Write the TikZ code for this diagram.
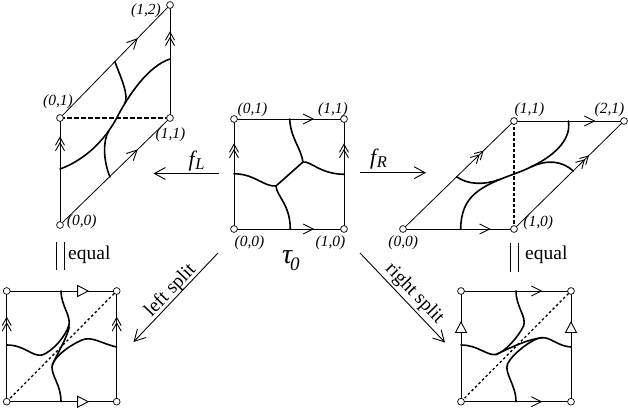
\documentclass[tikz,border=0pt]{standalone}
\usepackage{fontspec}
\setmainfont{Liberation Serif}
\usetikzlibrary{arrows.meta,decorations.markings}
\begin{document}
\begin{tikzpicture}[x=1pt,y=-1pt,
  frame/.style={line width=0.8pt},
  trk/.style={line width=1.6pt,line cap=round},
  vtx/.style={circle,draw,fill=white,inner sep=0pt,minimum size=6.8pt,line width=0.7pt},
  clab/.style={font=\fontsize{15.5}{15.5}\selectfont\itshape,inner sep=0pt},
  word/.style={font=\fontsize{19.5}{20}\selectfont,inner sep=0pt},
  chv/.style={postaction={decorate,decoration={markings,mark=at position #1 with {\draw[line width=0.9pt] (-10pt,5pt)--(0pt,0pt)--(-10pt,-5pt);}}}},
  dchv/.style={postaction={decorate,decoration={markings,mark=at position #1 with {\draw[line width=0.9pt] (-8pt,4.5pt)--(0pt,0pt)--(-8pt,-4.5pt) (-13.5pt,4.5pt)--(-5.5pt,0pt)--(-13.5pt,-4.5pt);}}}},
  trimk/.style={postaction={decorate,decoration={markings,mark=at position #1 with {\draw[line width=0.9pt,fill=white] (0pt,0pt)--(-10.5pt,5.5pt)--(-10.5pt,-5.5pt)--cycle;}}}},
  dsh/.style={line width=1.6pt,dash pattern=on 4.5pt off 2.5pt},
  dts/.style={line width=1.3pt,dash pattern=on 2.5pt off 2.5pt},
  farrow/.style={line width=0.9pt,-{Straight Barb[length=11pt,width=12pt]}}
]
\useasboundingbox (0,0) rectangle (628,409);

% ---------- centre square tau_0
\coordinate (c00) at (234,229);
\coordinate (c10) at (344,229);
\coordinate (c11) at (344,119);
\coordinate (c01) at (234,119);
\draw[frame,chv=0.72] (c00) -- (c10);
\draw[frame,chv=0.72] (c01) -- (c11);
\draw[frame,dchv=0.77] (c00) -- (c01);
\draw[frame,dchv=0.77] (c10) -- (c11);
\coordinate (cA) at (303,162);
\coordinate (cB) at (276,186);
\draw[trk] (289.7,119) .. controls (290.5,138) and (301,148) .. (cA);
\draw[trk] (cA) .. controls (311,161) and (320,174) .. (344,174.3);
\draw[trk] (cA) -- (cB);
\draw[trk] (cB) .. controls (264,187) and (255,174) .. (234,173.7);
\draw[trk] (cB) .. controls (277,197) and (290,204) .. (290.3,229);
\foreach \p in {c00,c10,c11,c01} \node[vtx] (v\p) at (\p) {};
\node[clab] (lc01) at (252.5,110) {(0,1)};
\node[clab] (lc11) at (333,110) {(1,1)};
\node[clab] (lc00) at (249.5,242.7) {(0,0)};
\node[clab] (lc10) at (330.5,242.7) {(1,0)};
\node[inner sep=0pt,anchor=base west] (tau) at (282,263.3) {\fontsize{28}{28}\selectfont\itshape τ\kern-2pt\raisebox{-6.7pt}{\fontsize{19}{19}\selectfont 0}};

% ---------- top left parallelogram (image under f_L)
\coordinate (L00) at (60,225);
\coordinate (L01) at (60,118);
\coordinate (L11) at (170,118);
\coordinate (L12) at (170,5);
\draw[frame,dchv=0.82] (L00) -- (L01);
\draw[frame,dchv=0.76] (L11) -- (L12);
\draw[frame,chv=0.70] (L00) -- (L11);
\draw[frame,chv=0.70] (L01) -- (L12);
\draw[dsh] (L01) -- (L11);
\draw[trk] (60,169) .. controls (85,160) and (105,140) .. (116.7,118) .. controls (128,96) and (148,66) .. (170,59);
\draw[trk] (115,62) .. controls (121,78) and (129.5,96) .. (124.5,104.1);
\draw[trk] (110,177) .. controls (103,160) and (103,141) .. (108.7,130.9);
\foreach \p in {L00,L01,L11,L12} \node[vtx] (v\p) at (\p) {};
\node[clab] (lL12) at (146,10.7) {(1,2)};
\node[clab] (lL01) at (58,101.7) {(0,1)};
\node[clab] (lL11) at (170.5,135) {(1,1)};
\node[clab] (lL00) at (81.7,221.7) {(0,0)};

% ---------- top right parallelogram (image under f_R)
\coordinate (R00) at (403,229);
\coordinate (R10) at (514,229);
\coordinate (R11) at (514,121);
\coordinate (R21) at (624,121);
\draw[frame,chv=0.78] (R00) -- (R10);
\draw[frame,chv=0.73] (R11) -- (R21);
\draw[frame,dchv=0.72] (R00) -- (R11);
\draw[frame,dchv=0.675] (R10) -- (R21);
\draw[dsh,dash pattern=on 3.5pt off 2pt] (R10) -- (R11);
\draw[trk] (568.3,121) .. controls (572,140) and (553,160) .. (514,174) .. controls (480,186.5) and (461,196) .. (460.7,229);
\draw[trk] (456.7,176.8) .. controls (468,185) and (485,185) .. (499.7,179.4);
\draw[trk] (573.3,171) .. controls (562,161) and (548,159) .. (530,167.3);
\foreach \p in {R00,R10,R11,R21} \node[vtx] (v\p) at (\p) {};
\node[clab] (lR00) at (403.3,242.7) {(0,0)};
\node[clab] (lR10) at (538.3,222.3) {(1,0)};
\node[clab] (lR11) at (529.5,110) {(1,1)};
\node[clab] (lR21) at (609.5,110) {(2,1)};

% ---------- maps
\coordinate (fLs) at (219,173.5);
\coordinate (fLe) at (153.5,173.5);
\draw[farrow] (fLs) -- (fLe);
\node[inner sep=0pt,anchor=base west] (fL) at (188.5,166) {\fontsize{22}{22}\selectfont\itshape f\kern0.5pt\raisebox{-3pt}{\fontsize{16.5}{16.5}\selectfont L}};
\coordinate (fRs) at (360,172.7);
\coordinate (fRe) at (426,172.7);
\draw[farrow] (fRs) -- (fRe);
\node[inner sep=0pt,anchor=base west] (fR) at (370,164.5) {\fontsize{22}{22}\selectfont\itshape f\kern0.5pt\raisebox{-3pt}{\fontsize{16.5}{16.5}\selectfont R}};

\coordinate (lss) at (218,253);
\coordinate (lse) at (133.5,342);
\draw[farrow] (lss) -- (lse);
\node[word,anchor=base,rotate=46] (ls) at (174,294) {left split};
\coordinate (rss) at (360,253);
\coordinate (rse) at (445,342.5);
\draw[farrow] (rss) -- (rse);
\node[word,anchor=base,rotate=-46] (rs) at (411,297) {right split};

% equal signs
\coordinate (eqa1) at (56.7,242); \coordinate (eqa2) at (56.7,270);
\coordinate (eqb1) at (64.3,242); \coordinate (eqb2) at (64.3,270);
\draw[line width=0.9pt] (eqa1) -- (eqa2);
\draw[line width=0.9pt] (eqb1) -- (eqb2);
\node[word,anchor=base west] (eqL) at (68,259.5) {equal};
\coordinate (eqc1) at (510,243); \coordinate (eqc2) at (510,272);
\coordinate (eqd1) at (518,243); \coordinate (eqd2) at (518,272);
\draw[line width=0.9pt] (eqc1) -- (eqc2);
\draw[line width=0.9pt] (eqd1) -- (eqd2);
\node[word,anchor=base west] (eqR) at (525,259.5) {equal};

% ---------- bottom left square (left split)
\coordinate (P00) at (6.7,401.7);
\coordinate (P10) at (116.7,401.7);
\coordinate (P11) at (116.7,291);
\coordinate (P01) at (6.7,291);
\draw[frame,trimk=0.74] (P01) -- (P11);
\draw[frame,trimk=0.74] (P00) -- (P10);
\draw[frame,dchv=0.76] (P00) -- (P01);
\draw[frame,dchv=0.76] (P10) -- (P11);
\draw[dts] (P00) -- (P11);
\draw[trk] (6.7,345) .. controls (25,345) and (32,357) .. (42,355) .. controls (52,352) and (66,336) .. (69,325) .. controls (71,316) and (61,305) .. (61,291);
\draw[trk] (69.3,327) .. controls (66,340) and (58,352) .. (52.3,365);
\draw[trk] (116.7,347) .. controls (100,343) and (92,336) .. (82,340) .. controls (70,345) and (52,358) .. (52,367) .. controls (52,377) and (61,385) .. (61,401.7);
\foreach \p in {P00,P10,P11,P01} \node[vtx] (v\p) at (\p) {};

% ---------- bottom right square (right split)
\coordinate (Q00) at (461,401.7);
\coordinate (Q10) at (571,401.7);
\coordinate (Q11) at (571,291);
\coordinate (Q01) at (461,291);
\draw[frame,chv=0.73] (Q01) -- (Q11);
\draw[frame,chv=0.73] (Q00) -- (Q10);
\draw[frame,trimk=0.72] (Q00) -- (Q01);
\draw[frame,trimk=0.72] (Q10) -- (Q11);
\draw[dts] (Q00) -- (Q11);
\draw[trk] (461,345) .. controls (478,345) and (487,356) .. (496,354.5) .. controls (505,352) and (519,336) .. (523.5,326) .. controls (527,317) and (516,307) .. (516,291);
\draw[trk] (496,354.5) .. controls (508,349) and (525,340) .. (541.7,337.7);
\draw[trk] (571,347) .. controls (557,346) and (551,337) .. (541.7,337.7) .. controls (533,338) and (512,354) .. (507.5,364) .. controls (504,373) and (516,385) .. (516,401.7);
\foreach \p in {Q00,Q10,Q11,Q01} \node[vtx] (v\p) at (\p) {};
\end{tikzpicture}
\end{document}
